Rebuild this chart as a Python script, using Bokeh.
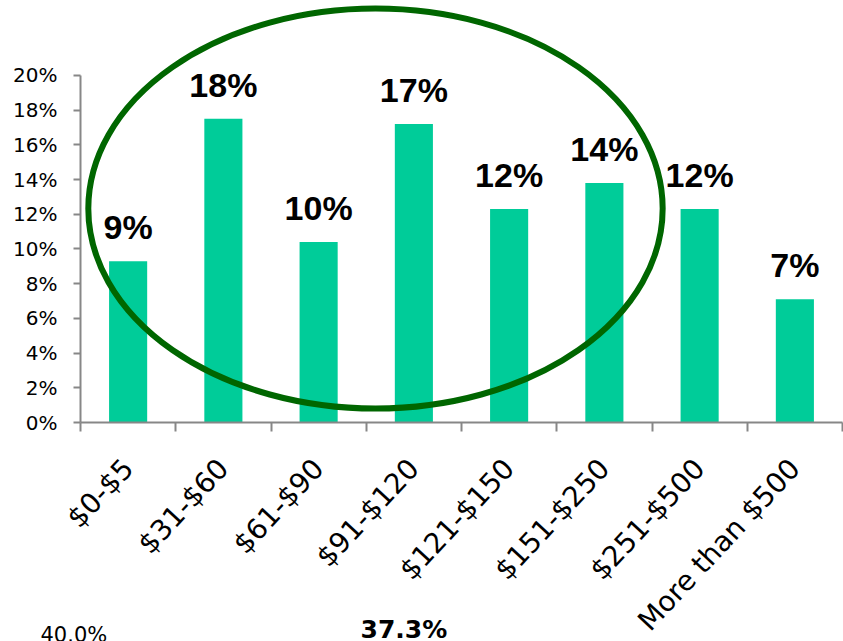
from bokeh.plotting import figure
from bokeh.models import (Range1d, LinearAxis, FixedTicker,
                          NumeralTickFormatter, ColumnDataSource)
from bokeh.embed import file_html
from bokeh.resources import INLINE
from bokeh.core.properties import value
import math

# ---- data ----
categories = ["$0-$5", "$31-$60", "$61-$90", "$91-$120",
              "$121-$150", "$151-$250", "$251-$500", "More than $500"]
shares = [0.093, 0.175, 0.104, 0.172, 0.123, 0.138, 0.123, 0.071]
share_labels = ["9%", "18%", "10%", "17%", "12%", "14%", "12%", "7%"]
y_ticks = [0.0, 0.02, 0.04, 0.06, 0.08, 0.10, 0.12, 0.14, 0.16, 0.18, 0.20]

# fragments of the next chart, cut off at the bottom of the page
fragment_texts = ["40.0%", "37.3%"]
fragment_x = [-0.42, 2.94]
fragment_y = [-0.1158, -0.1107]

BAR = "#00CC99"
RING = "#006600"
AXIS = "#878787"

n = len(categories)
centers = [i + 0.5 for i in range(n)]
bounds_ticks = list(range(n + 1))

p = figure(width=843, height=641, output_backend="svg", toolbar_location=None,
           x_range=Range1d(-0.8399, n + 0.0105),
           y_range=Range1d(-0.1262, 0.2432),
           x_axis_location=None, y_axis_location=None,
           min_border_left=0, min_border_right=0, min_border_top=0,
           min_border_bottom=0, title=None)
p.outline_line_color = None
p.xgrid.visible = False
p.ygrid.visible = False
p.background_fill_color = "white"
p.border_fill_color = "white"

# y axis, pinned at x = 0
yax = LinearAxis(ticker=FixedTicker(ticks=y_ticks),
                 formatter=NumeralTickFormatter(format="0%"),
                 bounds=(0, 0.2), fixed_location=0)
yax.axis_line_color = AXIS
yax.axis_line_width = 2
yax.major_tick_line_color = AXIS
yax.major_tick_line_width = 2
yax.major_tick_out = 7
yax.major_tick_in = 0
yax.minor_tick_line_color = None
yax.major_label_standoff = 16
yax.major_label_text_font = "DejaVu Sans"
yax.major_label_text_font_size = "20px"
yax.major_label_text_color = "black"
p.add_layout(yax, "left")

# x axis, pinned at y = 0: labels at centres, tick marks at boundaries
xax = LinearAxis(ticker=FixedTicker(ticks=centers, minor_ticks=bounds_ticks),
                 bounds=(0, n), fixed_location=0)
xax.major_label_overrides = {c: cat for c, cat in zip(centers, categories)}
xax.axis_line_color = AXIS
xax.axis_line_width = 2
xax.major_tick_line_color = None
xax.major_tick_out = 0
xax.major_tick_in = 0
xax.minor_tick_line_color = AXIS
xax.minor_tick_line_width = 2
xax.minor_tick_out = 9
xax.minor_tick_in = 0
xax.major_label_orientation = math.radians(47)
xax.major_label_standoff = 32
xax.major_label_text_font = "DejaVu Sans"
xax.major_label_text_font_size = "28px"
xax.major_label_text_color = "black"
p.add_layout(xax, "below")

src = ColumnDataSource(dict(x=centers, share=shares, lab=share_labels))

p.vbar(x="x", top="share", width=0.4, source=src, fill_color=BAR, line_color=None)

p.text(x="x", y="share", text="lab", source=src,
       text_font=value("Liberation Sans"), text_font_style="bold",
       text_font_size="34px", text_color="black",
       text_align="center", text_baseline="alphabetic", y_offset=-34)

# highlight ring
p.ellipse(x=3.097, y=0.1233, width=6.03, height=0.2305,
          fill_color=None, line_color=RING, line_width=6)

# cut-off fragments of the following chart
p.text(x=[fragment_x[0]], y=[fragment_y[0]], text=[fragment_texts[0]],
       text_baseline="top", text_font=value("DejaVu Sans"),
       text_font_size="21px", text_color="black")
p.text(x=[fragment_x[1]], y=[fragment_y[1]], text=[fragment_texts[1]],
       text_baseline="top", text_font=value("DejaVu Sans"),
       text_font_style="bold", text_font_size="25px", text_color="black")

open("out.html", "w").write(file_html(p, INLINE))
